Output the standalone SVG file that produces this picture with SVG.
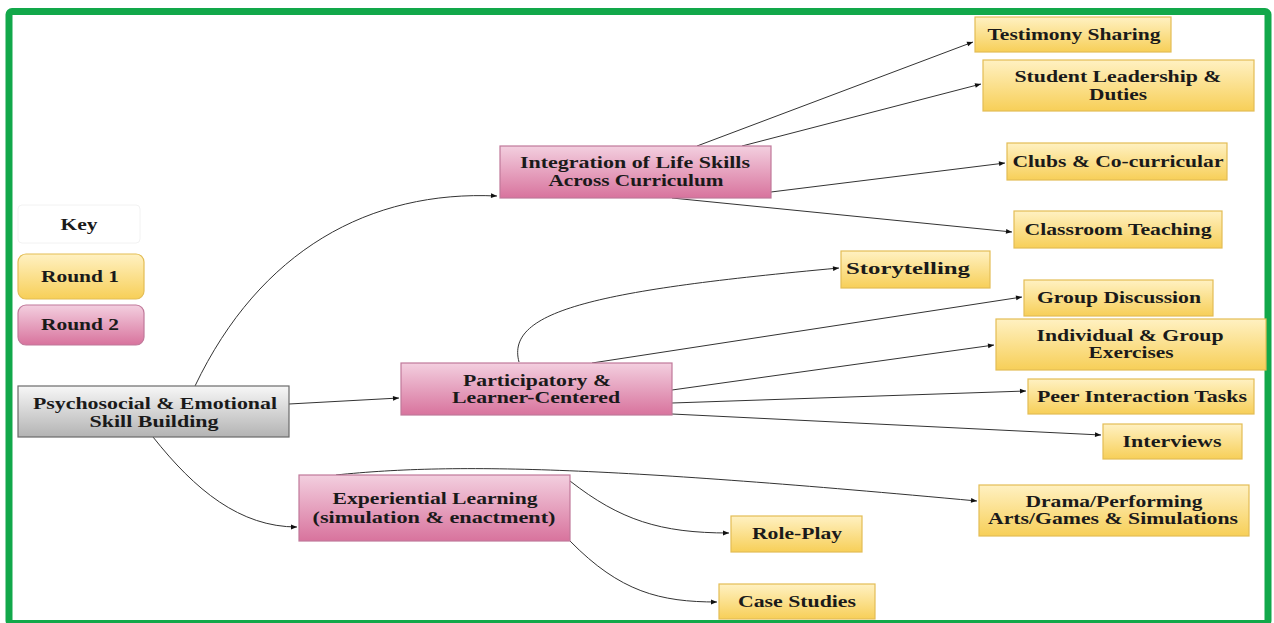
<svg xmlns="http://www.w3.org/2000/svg" width="1274" height="623" viewBox="0 0 1274 623">
<defs>
<linearGradient id="gy" x1="0" y1="0" x2="0" y2="1"><stop offset="0" stop-color="#fff1c2"/><stop offset="1" stop-color="#f7cf58"/></linearGradient>
<linearGradient id="gp" x1="0" y1="0" x2="0" y2="1"><stop offset="0" stop-color="#f3cfdf"/><stop offset="1" stop-color="#d8739d"/></linearGradient>
<linearGradient id="gg" x1="0" y1="0" x2="0" y2="1"><stop offset="0" stop-color="#f7f7f7"/><stop offset="1" stop-color="#b3b3b3"/></linearGradient>
<marker id="ah" viewBox="0 0 10 10" refX="10" refY="5" markerWidth="7" markerHeight="6" orient="auto" markerUnits="userSpaceOnUse"><path d="M0,1 L10,5 L0,9 z" fill="#111"/></marker>
<style>
text{font-family:"Liberation Serif","Times New Roman",serif;font-weight:bold;font-size:17px;fill:#1a1a1a;text-anchor:middle}
.y{fill:url(#gy);stroke:#e3bd55;stroke-width:1.2}
.p{fill:url(#gp);stroke:#c0799a;stroke-width:1.2}
.g{fill:url(#gg);stroke:#6a6a6a;stroke-width:1.2}
.c path{fill:none;stroke:#333;stroke-width:1;marker-end:url(#ah)}
</style>
</defs>
<rect width="1274" height="623" fill="#fff"/>
<rect x="9" y="11.5" width="1259" height="612" rx="3" fill="none" stroke="#12a84a" stroke-width="7"/>
<g id="connectors" class="c">
<path d="M195,386 C260,250 370,190 497,196"/>
<path d="M289,404 L399,398"/>
<path d="M153,437 C195,490 240,527 297,527"/>
<path d="M697,146 L973,42"/>
<path d="M742,146 L981,84"/>
<path d="M771,192 L1005,163"/>
<path d="M672,198 L1012,232"/>
<path d="M519,362 C505,310 600,290 839,268"/>
<path d="M592,363 L1022,297"/>
<path d="M672,390 L994,345"/>
<path d="M672,403 L1026,391"/>
<path d="M672,414 L1101,435"/>
<path d="M336,475 C460,462 620,468 977,501"/>
<path d="M570,481 C620,520 660,533 729,533"/>
<path d="M570,541 C620,592 660,602 717,602"/>
</g>
<g id="key"><rect x="18" y="205" width="122" height="38" rx="4" fill="#fff" stroke="#f2f2f2"/><text x="79" y="230" textLength="37" lengthAdjust="spacingAndGlyphs">Key</text></g>
<g id="round1"><rect class="y" x="18" y="254" width="126" height="45" rx="8"/><text x="80" y="282" textLength="78" lengthAdjust="spacingAndGlyphs">Round 1</text></g>
<g id="round2"><rect class="p" x="18" y="305" width="126" height="40" rx="8"/><text x="80" y="330" textLength="78" lengthAdjust="spacingAndGlyphs">Round 2</text></g>
<g id="psychosocial"><rect class="g" x="18" y="386" width="271" height="51"/><text x="155" y="409" textLength="244" lengthAdjust="spacingAndGlyphs">Psychosocial &amp; Emotional</text><text x="154" y="427" textLength="129" lengthAdjust="spacingAndGlyphs">Skill Building</text></g>
<g id="integration"><rect class="p" x="500" y="146" width="271" height="52"/><text x="635" y="168" textLength="230" lengthAdjust="spacingAndGlyphs">Integration of Life Skills</text><text x="636" y="186" textLength="175" lengthAdjust="spacingAndGlyphs">Across Curriculum</text></g>
<g id="participatory"><rect class="p" x="401" y="363" width="271" height="52"/><text x="537" y="386" textLength="148" lengthAdjust="spacingAndGlyphs">Participatory &amp;</text><text x="536" y="403" textLength="168" lengthAdjust="spacingAndGlyphs">Learner-Centered</text></g>
<g id="experiential"><rect class="p" x="299" y="475" width="271" height="66"/><text x="435" y="504" textLength="205" lengthAdjust="spacingAndGlyphs">Experiential Learning</text><text x="434" y="523" textLength="243" lengthAdjust="spacingAndGlyphs">(simulation &amp; enactment)</text></g>
<g id="testimony"><rect class="y" x="975" y="17" width="196" height="35"/><text x="1074" y="40" textLength="173" lengthAdjust="spacingAndGlyphs">Testimony Sharing</text></g>
<g id="leadership"><rect class="y" x="983" y="60" width="271" height="51"/><text x="1118" y="82" textLength="207" lengthAdjust="spacingAndGlyphs">Student Leadership &amp;</text><text x="1118" y="100" textLength="58" lengthAdjust="spacingAndGlyphs">Duties</text></g>
<g id="clubs"><rect class="y" x="1007" y="143" width="220" height="37"/><text x="1118" y="167" textLength="211" lengthAdjust="spacingAndGlyphs">Clubs &amp; Co-curricular</text></g>
<g id="classroom"><rect class="y" x="1014" y="211" width="208" height="37"/><text x="1118" y="235" textLength="187" lengthAdjust="spacingAndGlyphs">Classroom Teaching</text></g>
<g id="storytelling"><rect class="y" x="841" y="251" width="149" height="37"/><text x="908" y="274" textLength="124" lengthAdjust="spacingAndGlyphs">Storytelling</text></g>
<g id="groupdiscussion"><rect class="y" x="1024" y="280" width="189" height="36"/><text x="1119" y="303" textLength="164" lengthAdjust="spacingAndGlyphs">Group Discussion</text></g>
<g id="individual"><rect class="y" x="996" y="319" width="270" height="51"/><text x="1130" y="341" textLength="187" lengthAdjust="spacingAndGlyphs">Individual &amp; Group</text><text x="1131" y="358" textLength="85" lengthAdjust="spacingAndGlyphs">Exercises</text></g>
<g id="peer"><rect class="y" x="1028" y="379" width="226" height="35"/><text x="1142" y="402" textLength="210" lengthAdjust="spacingAndGlyphs">Peer Interaction Tasks</text></g>
<g id="interviews"><rect class="y" x="1103" y="424" width="139" height="35"/><text x="1172" y="447" textLength="99" lengthAdjust="spacingAndGlyphs">Interviews</text></g>
<g id="drama"><rect class="y" x="979" y="485" width="270" height="51"/><text x="1114" y="507" textLength="177" lengthAdjust="spacingAndGlyphs">Drama/Performing</text><text x="1113" y="524" textLength="250" lengthAdjust="spacingAndGlyphs">Arts/Games &amp; Simulations</text></g>
<g id="roleplay"><rect class="y" x="731" y="516" width="131" height="36"/><text x="797" y="539" textLength="90" lengthAdjust="spacingAndGlyphs">Role-Play</text></g>
<g id="casestudies"><rect class="y" x="719" y="584" width="156" height="35"/><text x="797" y="607" textLength="118" lengthAdjust="spacingAndGlyphs">Case Studies</text></g>
</svg>
